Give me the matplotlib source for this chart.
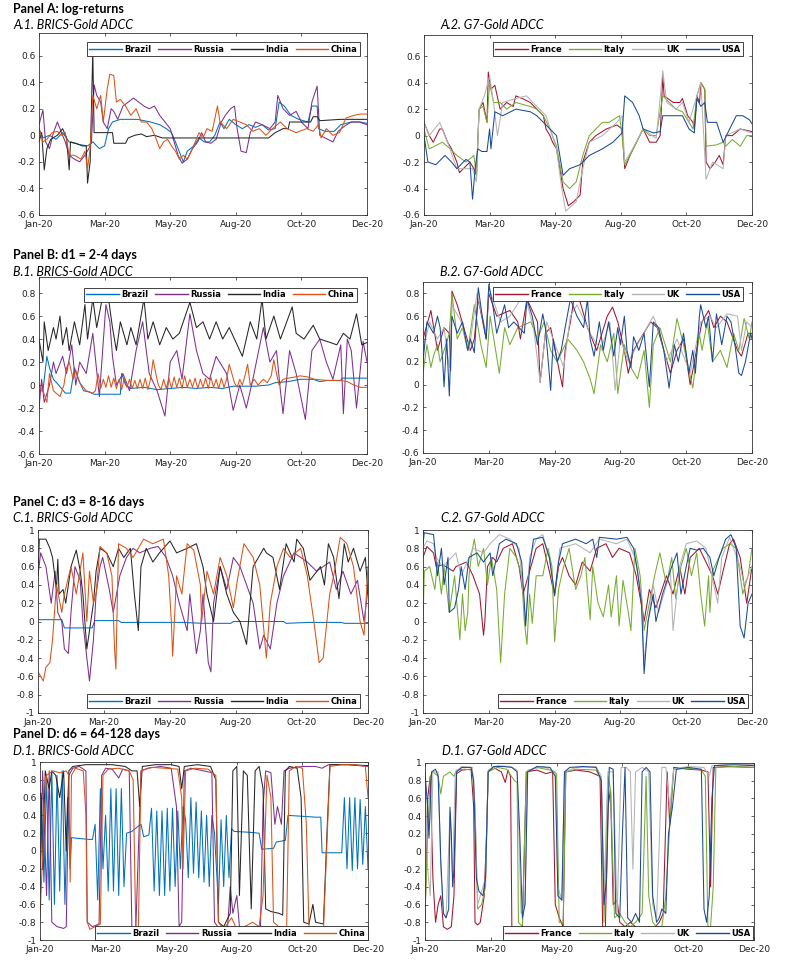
import numpy as np
import matplotlib.pyplot as plt
from matplotlib.ticker import FuncFormatter

plt.rcParams['font.family'] = 'DejaVu Sans'
plt.rcParams['axes.unicode_minus'] = False

# x axis is the trading-day index, labelled by month
tick_days = [0, 50, 100, 150, 200, 250]
tick_labels = ['Jan-20', 'Mar-20', 'May-20', 'Aug-20', 'Oct-20', 'Dec-20']

brics = ['Brazil', 'Russia', 'India', 'China']
g7 = ['France', 'Italy', 'UK', 'USA']
brics_colors = ['#0072BD', '#7E2F8E', '#262626', '#D95319']
g7_colors = ['#A2142F', '#77AC30', '#B3B3B3', '#1B4A94']

# ---- Panel A: log-returns (day, ADCC) ----
a1_brazil = [(0, .05), (3, -.02), (8, 0), (13, -.03), (18, .02), (23, -.05), (31, -.07), (37, -.08), (41, -.05),
             (46, -.1), (50, -.08), (53, .05), (56, .1), (62, .12), (75, .12), (85, .1), (92, .08), (97, .05),
             (101, .02), (104, -.05), (108, -.15), (110, -.2), (113, -.12), (118, -.08), (122, -.02), (126, -.05),
             (130, -.05), (134, 0), (138, .1), (141, .05), (145, .12), (150, .08), (155, .05), (160, .08), (165, .06),
             (170, .08), (175, .04), (180, .05), (183, .25), (187, .22), (192, .15), (198, .12), (205, .1), (208, .22),
             (212, .22), (213, .05), (218, .03), (225, .03), (230, .08), (238, .1), (245, .1), (250, .09)]
a1_russia = [(0, .08), (3, .19), (5, -.05), (8, -.1), (11, .02), (14, .1), (16, .05), (20, -.05), (23, -.15),
             (27, -.18), (31, -.2), (35, -.15), (38, -.1), (40, -.05), (42, .38), (44, .3), (47, .25), (49, .1),
             (52, .05), (55, .2), (57, .18), (60, .12), (64, .22), (68, .25), (72, .28), (76, .25), (80, .22),
             (84, .2), (88, .22), (92, .15), (96, .1), (100, .05), (103, -.05), (106, -.15), (109, -.21), (113, -.18),
             (117, -.1), (121, -.05), (124, .02), (127, -.05), (131, -.06), (135, -.03), (139, .1), (142, .15),
             (146, .2), (149, .22), (151, .05), (154, -.12), (158, -.13), (161, .02), (165, .1), (170, .08),
             (176, .05), (180, .1), (182, .3), (186, .2), (191, .15), (196, .18), (200, .1), (205, .05), (208, .25),
             (212, .37), (214, 0), (218, -.02), (224, -.05), (228, .03), (233, .07), (238, .1), (244, .1), (250, .08)]
a1_india = [(0, -.05), (2, .02), (4, -.26), (6, -.1), (9, -.03), (14, 0), (18, .05), (21, -.02), (23, -.26),
            (24, -.05), (28, -.06), (33, -.08), (36, -.08), (37, -.36), (39, -.2), (41, .63), (42, .02), (56, .02),
            (57, -.06), (66, -.06), (68, -.02), (73, 0), (78, .01), (82, -.01), (88, 0), (94, -.02), (125, -.02),
            (175, -.02), (180, .02), (186, .05), (190, .05), (191, .1), (207, .1), (209, .14), (212, .14),
            (214, .11), (230, .12), (250, .12)]
a1_china = [(0, .05), (3, -.05), (6, -.03), (10, .02), (14, .03), (17, 0), (20, .02), (23, -.15), (27, -.15),
            (32, -.18), (35, -.12), (37, -.25), (39, -.1), (41, .3), (44, .2), (47, .3), (49, .1), (52, .35),
            (54, .46), (57, .45), (59, .25), (62, .27), (66, .22), (70, .15), (74, .2), (78, .1), (82, .1), (86, .05),
            (89, -.02), (92, -.1), (95, -.05), (98, -.03), (101, -.08), (104, -.12), (107, -.18), (110, -.15),
            (113, -.18), (117, -.1), (122, .02), (125, -.02), (128, .05), (132, .03), (136, .22), (138, .1),
            (143, .05), (148, .12), (153, .1), (158, .08), (163, .03), (168, .05), (173, 0), (178, .05), (184, .1),
            (189, .05), (196, .02), (204, .05), (209, .03), (213, .08), (215, -.02), (219, .05), (224, 0),
            (229, .02), (234, .13), (240, .15), (245, .16), (250, .16)]

a2_france = [(0, .1), (4, 0), (7, -.05), (12, .05), (14, .05), (18, -.05), (21, -.1), (25, -.2), (27, -.28),
             (30, -.25), (35, -.2), (38, -.25), (40, -.3), (42, .2), (45, .25), (48, .1), (49, .48), (51, .35),
             (54, .38), (58, .2), (63, .25), (68, .22), (70, .3), (75, .28), (81, .25), (86, .2), (91, .15), (93, .05),
             (96, 0), (98, -.05), (101, -.1), (106, -.4), (110, -.53), (114, -.5), (119, -.45), (121, -.2),
             (126, -.05), (131, 0), (139, .05), (147, .08), (151, .05), (153, -.25), (157, -.15), (162, -.05),
             (167, .05), (172, -.05), (177, -.05), (180, 0), (182, .45), (183, .3), (190, .25), (195, .25),
             (197, .28), (201, .15), (205, .1), (206, .05), (208, .3), (210, .25), (211, .4), (214, .35), (215, -.2),
             (218, -.25), (222, -.2), (225, -.15), (228, -.22), (230, 0), (235, 0), (241, .05), (250, .03)]
a2_italy = [(0, .05), (4, -.1), (14, -.05), (20, -.1), (25, -.15), (32, -.2), (38, -.15), (40, -.3), (42, .2),
            (45, .22), (48, .1), (50, .4), (53, .25), (58, .25), (63, .2), (70, .25), (81, .22), (86, .2), (91, .15),
            (96, .05), (101, -.08), (106, -.35), (111, -.4), (116, -.35), (121, -.15), (126, 0), (131, .05),
            (136, .1), (141, .1), (149, .15), (151, 0), (153, -.22), (157, -.15), (162, -.05), (167, .05), (172, 0),
            (177, 0), (182, .3), (187, .25), (192, .2), (197, .18), (202, .1), (205, .05), (208, .3), (211, .4),
            (214, .35), (215, -.08), (223, -.07), (228, -.05), (230, -.08), (235, -.03), (241, -.08), (246, 0),
            (250, 0)]
a2_uk = [(0, .1), (4, 0), (12, .1), (18, -.05), (25, -.25), (37, -.25), (40, -.35), (42, .2), (46, .3), (50, .45),
         (53, .25), (56, 0), (60, .25), (70, .28), (78, .3), (88, .2), (93, .15), (101, -.1), (105, -.4),
         (108, -.57), (116, -.5), (121, -.25), (126, -.05), (136, 0), (147, .1), (151, .15), (153, -.2), (159, -.1),
         (167, .05), (177, -.02), (182, .49), (185, .25), (192, .2), (197, .25), (202, .1), (208, .3), (211, .4),
         (215, -.33), (220, -.2), (228, -.25), (230, 0), (241, .05), (250, .02)]
a2_usa = [(0, 0), (3, -.2), (9, -.22), (16, -.15), (21, -.2), (25, -.25), (32, -.18), (35, -.2), (37, -.48),
          (39, -.25), (41, -.1), (44, -.12), (48, -.12), (50, .05), (51, -.1), (54, .18), (60, .15), (70, .2),
          (81, .18), (86, .15), (91, .1), (96, .05), (101, 0), (106, -.3), (111, -.25), (119, -.22), (126, -.15),
          (136, -.1), (144, -.05), (149, 0), (151, .02), (153, .3), (159, .25), (164, .15), (167, .05), (175, .02),
          (180, .03), (182, .15), (190, .15), (197, .15), (202, .05), (206, .02), (208, .28), (211, .22),
          (214, .25), (216, .1), (223, .1), (228, -.05), (233, .05), (238, .15), (243, .15), (248, .12), (250, .09)]

# ---- Panel B: d1 = 2-4 days ----
b1_brazil = [(0, -.05), (3, -.05), (6, .25), (8, .15), (11, .05), (15, 0), (20, -.07), (24, -.07), (27, .15),
             (30, .05), (34, -.05), (38, -.06), (42, -.08), (62, -.08), (63, .1), (66, 0), (70, -.03), (80, -.02),
             (90, -.04), (100, -.03), (110, -.02), (120, -.03), (130, -.02), (140, -.03), (148, -.01), (165, -.01),
             (175, 0), (180, .02), (190, .03), (199, .05), (209, .05), (214, .03), (220, .04), (230, .04), (231, .06),
             (250, .06)]
b1_russia = [(0, -.2), (2, .05), (4, -.15), (8, 0), (11, .2), (13, .1), (18, .25), (21, .1), (25, .35), (28, 0),
             (31, .2), (36, .1), (41, .45), (46, -.1), (51, .7), (54, .55), (56, .25), (59, 0), (64, .1), (69, -.05),
             (74, .3), (79, .55), (84, .1), (90, -.05), (96, -.27), (100, .2), (105, .3), (109, .05), (115, .62),
             (120, .3), (125, .1), (130, .05), (135, .25), (143, .1), (148, -.22), (153, 0), (158, -.2), (163, .05),
             (171, .5), (176, .2), (181, .3), (184, -.05), (186, -.25), (191, .3), (196, .1), (203, -.3), (208, .3),
             (214, .4), (219, .2), (224, .05), (230, .35), (232, -.25), (235, .4), (238, .3), (242, -.2), (247, .38),
             (250, .2)]
b1_india = [(0, .4), (3, .2), (4, .55), (7, .3), (11, .5), (13, .4), (16, .6), (18, .35), (21, .5), (23, .3),
            (27, .55), (31, .35), (35, .7), (37, .4), (41, .75), (44, .5), (49, .8), (53, .75), (56, .5), (59, .3),
            (62, .55), (67, .35), (70, .5), (74, .35), (80, .75), (83, .4), (87, .55), (92, .35), (97, .5),
            (102, .4), (107, .45), (115, .72), (120, .5), (125, .55), (130, .4), (135, .55), (140, .4), (145, .5),
            (155, .25), (161, .55), (166, .4), (170, .75), (173, .4), (179, .6), (184, .4), (193, .68), (196, .45),
            (202, .4), (209, .52), (214, .4), (222, .37), (227, .35), (232, .45), (237, .4), (242, .62), (246, .35),
            (250, .37)]
b1_china = [(0, 0), (3, -.05), (6, -.15), (8, .1), (11, -.05), (16, -.1), (19, 0), (21, .15), (23, .2), (26, .05),
            (28, .13), (31, .02), (36, -.05), (41, -.07), (43, -.05), (45, .1), (47, -.03), (49, .05), (51, -.02),
            (53, .08), (55, -.02), (57, .06), (59, -.03), (61, .05), (63, -.04), (65, .06), (67, -.02), (69, .05),
            (71, -.03), (73, .04), (75, -.03), (77, .05), (79, -.03), (81, .06), (83, -.04), (85, .05), (87, .22),
            (89, .1), (91, 0), (93, -.04), (95, .05), (97, -.03), (99, .06), (101, -.03), (103, .07), (105, -.02),
            (107, .06), (109, -.03), (111, .08), (113, -.02), (115, .05), (117, -.02), (119, .06), (121, -.03),
            (123, .05), (125, -.02), (127, .06), (129, -.03), (131, .07), (133, -.02), (135, .05), (137, -.03),
            (139, .06), (141, -.02), (143, .05), (145, .18), (147, .1), (149, .02), (151, -.02), (153, .05),
            (155, 0), (157, .08), (159, .18), (161, 0), (164, .05), (167, 0), (171, .05), (174, .02), (177, .08),
            (179, .22), (181, .1), (183, 0), (186, .05), (190, .06), (195, .07), (199, .08), (205, .07), (210, .05),
            (220, .04), (230, .04), (235, .03), (240, 0), (245, -.02), (250, -.02)]

b2_france = [(0, .4), (6, .65), (11, .3), (16, .5), (20, .45), (21, .12), (22, .82), (26, .7), (31, .5), (36, .3),
             (39, .4), (42, .75), (48, .4), (50, .8), (56, .6), (66, .65), (72, .55), (74, .4), (79, .75), (87, .55),
             (89, .02), (93, .45), (97, .5), (106, -.02), (108, .3), (112, .55), (116, .85), (120, .7), (125, .5),
             (132, .3), (140, .6), (144, .68), (148, .55), (153, .3), (156, .1), (160, .3), (165, .4), (173, .55),
             (178, .5), (183, .3), (188, .1), (193, .3), (198, .4), (203, 0), (207, .25), (212, .55), (217, .65),
             (221, .5), (226, .6), (231, .55), (239, .3), (242, .25), (247, .45), (250, .45)]
b2_italy = [(0, .1), (3, .35), (6, .15), (8, .25), (11, .35), (13, .2), (16, .3), (20, .45), (22, .8), (26, .4),
            (30, .5), (34, .3), (39, .7), (44, .35), (48, .15), (51, .6), (58, .1), (62, .5), (66, .35), (72, .5),
            (82, .55), (87, .4), (92, .55), (97, .3), (102, .2), (110, .4), (117, .3), (122, .2), (127, .05),
            (130, -.08), (135, .35), (140, .2), (145, .45), (148, -.08), (153, .35), (158, .15), (163, .05),
            (168, .3), (172, -.2), (175, .35), (180, .5), (188, .2), (193, .58), (198, .35), (205, -.03), (210, .45),
            (212, .3), (216, .55), (220, .2), (226, .3), (231, .15), (236, .45), (240, .3), (244, .58), (248, .4),
            (250, .55)]
b2_uk = [(0, .3), (5, .55), (11, .4), (16, .5), (20, .15), (22, .7), (29, .55), (35, .3), (41, .8), (48, .45),
         (50, .85), (59, .55), (66, .6), (77, .8), (84, .5), (89, .02), (94, .55), (102, .3), (107, .15), (112, .6),
         (117, .7), (127, .45), (135, .3), (142, .55), (146, -.05), (150, .4), (156, .2), (163, .35), (175, .6),
         (180, .45), (185, .2), (193, .4), (203, .1), (211, .55), (218, .6), (223, .5), (231, .62), (239, .6),
         (242, .3), (246, .55), (250, .5)]
b2_usa = [(0, .2), (3, .55), (8, .45), (11, .6), (13, .5), (15, .2), (16, -.02), (18, .4), (20, -.1), (22, .6),
          (26, .45), (30, .55), (34, .3), (36, .4), (39, .28), (42, .85), (45, .6), (48, .4), (50, .88), (53, .7),
          (56, .45), (62, .7), (65, .5), (69, .55), (73, .5), (77, .45), (79, .75), (83, .6), (87, .35), (91, .62),
          (93, .5), (97, -.05), (99, .4), (102, .2), (105, .3), (108, .5), (112, .75), (117, .6), (122, .5),
          (125, .75), (127, .4), (130, .25), (134, .55), (137, .3), (141, .55), (145, .25), (148, .5), (150, .35),
          (153, .6), (155, .3), (158, .15), (160, .42), (164, .3), (168, .45), (172, -.02), (175, .55), (179, .5),
          (183, .3), (187, -.03), (191, .35), (194, .2), (198, .45), (202, .1), (205, .3), (207, .1), (210, .6),
          (211, .7), (215, .5), (217, .6), (220, .2), (223, .62), (227, .35), (231, .6), (234, .55), (237, .35),
          (240, .1), (242, .08), (245, .2), (249, .45), (250, .4)]

# ---- Panel C: d3 = 8-16 days ----
c1_brazil = [(0, .02), (18, .02), (20, -.07), (41, -.07), (43, .01), (61, .01), (63, -.01), (110, -.01),
             (125, -.02), (146, -.02), (148, 0), (186, 0), (188, -.02), (205, -.01), (230, -.01), (232, -.02),
             (250, -.02)]
c1_russia = [(0, .5), (2, .75), (6, .6), (10, .2), (13, .55), (15, .1), (18, 0), (20, -.3), (23, -.35), (25, .1),
             (28, .6), (32, .45), (34, 0), (37, -.4), (39, -.65), (42, -.2), (44, .3), (47, .6), (49, .7), (54, .35),
             (57, .1), (62, .5), (67, .7), (72, .8), (77, .75), (85, .8), (91, .82), (97, .7), (102, .5), (107, .2),
             (113, -.1), (115, .3), (120, -.35), (123, -.1), (125, .3), (129, -.45), (131, -.55), (133, .2),
             (138, .6), (143, .35), (148, .7), (153, .6), (163, .2), (168, -.3), (171, -.15), (176, -.3), (181, .2),
             (186, .5), (194, .75), (204, .65), (211, .55), (221, .65), (226, .35), (231, .55), (237, .3), (242, .45),
             (247, 0), (250, .35)]
c1_india = [(0, .5), (1, .9), (6, .9), (9, .8), (11, .7), (14, .35), (15, .68), (16, .3), (19, .35), (21, .2),
            (25, .6), (29, .78), (32, .55), (34, .3), (37, -.3), (39, -.1), (42, .2), (44, .55), (47, .8), (52, .75),
            (57, .6), (61, .8), (65, .7), (70, .8), (73, .3), (76, -.1), (78, .6), (82, .8), (87, .65), (92, .75),
            (100, .88), (105, .75), (113, .8), (120, .85), (125, .6), (128, .3), (133, 0), (138, .6), (143, .3),
            (148, .1), (153, 0), (158, -.25), (163, .6), (171, .8), (173, .75), (178, .7), (183, .35), (188, .85),
            (194, .65), (196, .9), (201, .8), (206, .45), (214, .6), (217, .4), (220, .85), (224, .7), (228, .25),
            (232, .85), (235, .65), (239, .8), (244, .55), (248, .7), (250, .3)]
c1_china = [(0, -.55), (4, -.65), (6, -.5), (9, -.45), (11, -.2), (14, .4), (18, .1), (20, .3), (25, .6), (29, .3),
            (34, .75), (37, 0), (39, .55), (42, .2), (44, .3), (47, .82), (52, .75), (56, .5), (58, -.3), (59, -.52),
            (61, .85), (67, .8), (72, .7), (80, .9), (87, .85), (95, .9), (99, .5), (101, 0), (102, -.38), (105, .5),
            (109, .3), (113, .85), (118, .78), (123, .4), (124, 0), (128, .55), (133, .3), (138, .7), (143, .5),
            (148, .15), (151, .45), (156, .85), (163, .7), (168, .4), (173, -.4), (176, .2), (181, .6), (186, .8),
            (191, .7), (199, .8), (204, .5), (209, 0), (213, -.45), (216, -.4), (221, .3), (224, .5), (229, .92),
            (234, .85), (239, .6), (244, 0), (247, -.15), (250, .6)]

c2_france = [(0, .7), (3, .82), (8, .75), (10, .6), (15, .62), (23, .55), (25, .6), (33, .65), (38, .5), (43, .3),
             (46, -.15), (47, 0), (49, .6), (53, .7), (56, .65), (61, .8), (68, .85), (73, .6), (76, .3), (80, .5),
             (86, .8), (91, .85), (96, .55), (100, .28), (103, .6), (106, .7), (111, .5), (116, .4), (121, .65),
             (127, .55), (132, .8), (139, .85), (144, .7), (149, .8), (157, .75), (162, .5), (167, .1), (168, 0),
             (172, .35), (177, .15), (185, .5), (190, .3), (195, .6), (199, .3), (203, .7), (210, .8), (215, .65),
             (220, .5), (224, .3), (228, .55), (233, .85), (236, .9), (241, .7), (246, .2), (250, .6)]
c2_italy = [(0, 0), (1, .55), (5, .6), (9, .35), (11, .65), (14, .3), (16, .6), (20, .1), (24, .5), (28, -.2),
            (30, .3), (32, -.1), (34, .1), (35, .5), (37, .75), (39, .9), (42, .6), (46, .8), (49, .4), (52, .7),
            (56, .35), (59, -.45), (62, .3), (66, .8), (71, .7), (75, .5), (77, 0), (79, -.25), (81, .3), (83, -.02),
            (86, .5), (91, .5), (95, .8), (98, .6), (100, -.22), (103, .35), (106, .55), (111, .8), (116, .35),
            (120, .5), (123, .7), (127, .02), (129, .6), (133, .2), (137, .05), (141, .4), (143, .05), (147, .5),
            (149, -.05), (152, .45), (156, .1), (158, -.1), (161, .8), (165, .5), (168, -.1), (172, .2), (176, .5),
            (180, .75), (185, .4), (189, .7), (192, .25), (196, .6), (200, .8), (204, .5), (208, .75), (211, .3),
            (214, -.05), (217, .5), (218, .1), (220, .55), (228, .8), (233, .85), (238, .8), (243, .3), (247, .5),
            (250, .8)]
c2_uk = [(0, .8), (3, .88), (8, .85), (10, .7), (15, .6), (25, .75), (29, .5), (38, .8), (46, .75), (51, .85),
         (58, .95), (66, .9), (73, .8), (78, 0), (81, .7), (86, .9), (91, .95), (96, .7), (100, .3), (104, .8),
         (116, .85), (127, .75), (134, .9), (147, .85), (155, .9), (161, .7), (166, .3), (168, -.45), (171, 0),
         (175, .4), (179, .1), (188, .55), (190, -.1), (195, .6), (200, .85), (208, .88), (215, .8), (224, .2),
         (227, .7), (233, .92), (241, .6), (244, .4), (250, .6)]
c2_usa = [(0, .85), (1, .97), (8, .95), (9, .8), (11, .5), (14, .8), (16, .4), (19, .7), (20, .1), (24, .15),
          (27, .35), (29, .6), (32, .35), (35, .7), (41, .75), (46, .65), (51, .75), (53, .5), (58, .85), (63, .9),
          (71, .85), (75, .65), (77, .2), (78, -.05), (81, .6), (84, .9), (91, .92), (96, .7), (100, .3), (103, .65),
          (106, .85), (116, .9), (124, .85), (129, .9), (132, .7), (134, .92), (147, .9), (155, .92), (160, .8),
          (163, .55), (166, .2), (168, -.57), (171, 0), (175, .3), (177, 0), (182, .3), (189, .6), (193, .75),
          (196, .3), (200, .6), (203, .8), (208, .78), (213, .8), (218, .7), (221, .5), (225, .7), (230, .9),
          (234, .95), (238, .8), (241, -.05), (244, -.18), (247, .2), (250, .3)]

# ---- Panel D: d6 = 64-128 days ----
d1_brazil = [(0, -.3), (1, .65), (3, -.35), (5, .85), (7, -.55), (9, .9), (11, -.6), (13, .85), (15, -.45), (17, .9),
             (19, -.6), (21, .6), (23, -.2), (24, .15), (30, .14), (38, .13), (40, .13), (42, .3), (44, -.55),
             (46, .7), (48, -.2), (50, .4), (52, -.45), (54, .7), (56, -.45), (58, .7), (60, -.5), (62, .7),
             (64, -.4), (66, .2), (70, .22), (75, .28), (77, .3), (79, .16), (83, .18), (85, .48), (87, -.45),
             (89, .45), (91, -.5), (93, .45), (95, -.5), (97, .48), (99, -.45), (101, .48), (103, -.4), (105, .45),
             (107, -.2), (109, .5), (111, .35), (113, -.3), (115, .6), (117, -.25), (119, .55), (121, -.3),
             (123, .45), (125, -.35), (127, .4), (129, -.4), (131, .4), (133, .2), (136, -.6), (138, .35),
             (140, -.4), (142, .4), (144, -.3), (146, .25), (148, .22), (160, .21), (167, .2), (169, .02), (178, .03),
             (180, .1), (187, .12), (189, .4), (200, .39), (210, .38), (214, .38), (215, -.02), (230, -.02),
             (232, .6), (234, -.2), (236, .6), (238, -.22), (240, .6), (242, -.2), (244, .58), (246, -.15),
             (248, .5), (250, -.2)]
d1_russia = [(0, -.5), (2, .9), (5, -.5), (7, .9), (9, -.8), (13, -.85), (18, -.87), (20, -.85), (22, .85),
             (25, .93), (30, .95), (35, .9), (36, -.8), (40, -.85), (45, -.82), (47, .85), (50, .93), (55, .92),
             (60, .82), (63, .92), (68, .9), (70, -.85), (73, -.88), (77, .9), (82, .93), (92, .95), (100, .93),
             (104, .5), (106, -.85), (108, -.8), (110, .9), (115, .93), (125, .9), (131, .88), (133, -.8),
             (137, -.88), (143, -.85), (145, -.4), (147, -.7), (150, -.5), (152, -.85), (156, -.9), (163, -.88),
             (168, -.9), (170, .5), (172, .9), (176, .88), (179, .3), (181, .5), (184, .3), (186, .9), (190, .93),
             (200, .95), (210, .95), (215, .93), (220, .97), (235, .97), (250, .95)]
d1_india = [(0, .65), (1, .6), (2, -.2), (4, .9), (7, .7), (9, .9), (12, .85), (15, .6), (18, .9), (20, 0), (22, .9),
            (25, .95), (35, .97), (45, .97), (55, .97), (65, .95), (70, .9), (74, .9), (76, .5), (78, .95), (88, .97),
            (100, .97), (106, .95), (108, .7), (110, .95), (120, .97), (130, .95), (134, .8), (136, -.8),
            (140, -.85), (145, -.7), (147, .9), (150, .95), (152, -.5), (155, .9), (158, .85), (161, -.65),
            (164, .9), (167, .95), (170, .7), (172, -.65), (176, -.68), (182, -.7), (185, -.72), (187, .9),
            (190, .95), (196, .93), (199, .6), (201, -.8), (205, -.82), (208, -.6), (210, -.8), (216, -.82),
            (219, .3), (221, .97), (235, .97), (250, .96)]
d1_china = [(0, -.75), (3, .3), (5, .85), (10, .9), (15, .88), (20, .9), (22, .85), (23, -.35), (24, .85), (27, .93),
            (33, .9), (35, .4), (36, -.8), (38, -.88), (42, -.85), (46, -.82), (48, .85), (52, .92), (60, .93),
            (68, .9), (71, .8), (73, -.88), (75, -.85), (77, .9), (85, .94), (95, .93), (105, .92), (108, .6),
            (109, -.2), (111, .9), (118, .93), (128, .92), (134, .85), (136, -.8), (140, -.88), (146, -.75),
            (150, -.88), (156, -.85), (162, -.8), (167, -.85), (170, -.5), (173, .85), (176, .6), (178, -.8),
            (182, -.85), (188, -.85), (190, .9), (195, .95), (200, .93), (203, .3), (205, -.85), (210, -.92),
            (216, -.9), (219, .2), (221, .95), (230, .97), (240, .97), (248, .95), (250, .6)]

d2_france = [(0, -.8), (2, .6), (4, .85), (6, -.3), (8, -.8), (10, -.6), (12, -.5), (14, -.85), (17, -.88),
             (20, -.85), (22, -.5), (24, .88), (28, .92), (35, .93), (37, .5), (38, -.8), (40, -.83), (42, -.8),
             (45, -.5), (47, .3), (48, .9), (52, .95), (58, .9), (61, .78), (63, .92), (65, .85), (66, -.85),
             (70, -.88), (74, -.85), (77, .9), (85, .92), (92, .88), (97, .9), (99, -.6), (102, -.75), (105, -.85),
             (107, .9), (115, .92), (125, .9), (133, .85), (135, -.85), (137, -.92), (139, .5), (141, .7),
             (143, -.6), (146, -.55), (148, -.8), (152, -.85), (156, -.8), (160, -.85), (165, -.88), (170, -.85),
             (172, -.9), (175, -.85), (178, -.8), (181, -.7), (184, .9), (186, .3), (189, .95), (200, .93),
             (210, .92), (215, .9), (217, -.4), (219, .95), (230, .96), (250, .95)]
d2_italy = [(0, -.75), (2, .2), (4, .85), (6, .9), (10, .85), (12, .65), (14, .85), (19, .9), (22, .85), (24, .92),
            (30, .93), (36, .92), (38, .5), (40, -.65), (43, -.6), (46, -.4), (48, .9), (55, .95), (62, .93),
            (68, .8), (70, .78), (71, -.8), (74, -.85), (77, .9), (85, .95), (95, .92), (100, .88), (102, -.8),
            (105, -.8), (107, .9), (115, .93), (130, .92), (134, .8), (136, -.8), (139, .85), (141, .7), (144, -.75),
            (148, -.7), (152, -.8), (156, -.85), (160, -.8), (165, -.7), (168, .85), (170, -.5), (173, -.8),
            (176, -.85), (180, -.85), (183, -.5), (186, .3), (189, .93), (200, .94), (210, .92), (213, .85),
            (215, -.88), (217, -.85), (219, -.4), (221, .95), (235, .96), (250, .95)]
d2_uk = [(0, .8), (2, -.2), (4, -.5), (6, .9), (10, .9), (12, -.2), (14, -.7), (16, -.75), (19, .45), (21, -.3),
         (23, .9), (28, .96), (36, .95), (38, .5), (40, -.6), (43, -.45), (46, -.3), (48, .92), (55, .97), (65, .96),
         (70, .92), (73, -.7), (76, -.6), (78, .92), (90, .96), (99, .9), (101, -.4), (104, -.55), (106, .9),
         (115, .95), (130, .96), (134, .85), (136, -.5), (139, .9), (143, .9), (146, -.7), (149, .95), (153, .95),
         (156, .9), (158, -.2), (160, .9), (165, .95), (170, .9), (173, -.6), (176, -.75), (180, .95), (183, .95),
         (186, .5), (189, .93), (200, .96), (212, .95), (214, .9), (216, .85), (218, .97), (235, .99), (250, .98)]
d2_usa = [(0, .9), (2, .5), (3, .15), (5, .9), (8, .93), (10, .85), (12, -.1), (14, -.7), (16, -.75), (18, -.65),
          (19, .5), (20, .2), (21, -.4), (22, -.2), (24, .9), (28, .95), (35, .95), (37, .8), (39, -.3), (41, -.45),
          (44, -.5), (46, -.3), (48, .9), (52, .96), (60, .96), (66, .95), (70, .9), (72, .2), (74, -.75),
          (76, -.6), (78, .9), (85, .96), (95, .95), (99, .85), (101, -.5), (104, -.55), (106, .9), (110, .95),
          (120, .96), (130, .95), (134, .8), (136, -.6), (138, -.3), (140, .95), (143, .93), (145, -.7),
          (148, -.75), (150, .2), (152, .95), (154, -.75), (157, -.8), (160, -.7), (163, -.8), (165, .9),
          (168, .95), (171, .9), (173, -.5), (176, -.8), (178, -.75), (180, -.65), (183, -.7), (185, .2),
          (188, .5), (191, .93), (200, .95), (210, .93), (212, -.65), (214, -.8), (216, -.5), (218, .6),
          (220, .97), (235, .98), (250, .97)]

W, H = 787, 964
fig = plt.figure(figsize=(W / 100, H / 100), dpi=100)


def fmt(v, pos):
    return '0' if abs(v) < 1e-9 else f'{v:g}'


def panel(box, series, names, colors, ylim, yticks, anchor, loc):
    x0, y0, x1, y1 = box
    ax = fig.add_axes([x0 / W, 1 - y1 / H, (x1 - x0) / W, (y1 - y0) / H])
    for s, name, c in zip(series, names, colors):
        d = np.array(s)
        ax.plot(d[:, 0], d[:, 1], color=c, lw=0.75, label=name)
    ax.set_xticks(tick_days)
    ax.set_xticklabels(tick_labels)
    ax.set_yticks([t for t in yticks if ylim[0] - 1e-9 <= t <= ylim[1] + 1e-9])
    ax.set_xlim(0, 250)
    ax.set_ylim(*ylim)
    ax.yaxis.set_major_formatter(FuncFormatter(fmt))
    ax.tick_params(direction='in', length=2, width=0.5, top=True, right=True,
                   labelsize=6.5, colors='#222222')
    ax.tick_params(axis='y', pad=2.5)
    ax.tick_params(axis='x', pad=3.5)
    for sp in ax.spines.values():
        sp.set_linewidth(0.6)
        sp.set_color('#333333')
    leg = ax.legend(loc=loc, bbox_to_anchor=anchor, ncol=4, handlelength=3.9,
                    prop={'size': 6, 'weight': 'bold'},
                    handletextpad=0.3, columnspacing=0.8, borderpad=0.3, borderaxespad=0,
                    fancybox=False, edgecolor='#222222', framealpha=1)
    leg.get_frame().set_linewidth(0.6)
    for h in leg.get_lines():
        h.set_linewidth(1.0)
    return ax


yt_ab = np.round(np.arange(-0.6, 0.81, 0.2), 1)
yt_cd = np.round(np.arange(-1, 1.01, 0.2), 1)

panel((39, 33, 367, 215), [a1_brazil, a1_russia, a1_india, a1_china], brics, brics_colors,
      (-0.6, 0.77), yt_ab, (0.979, 0.95), 'upper right')
panel((424, 35, 752, 215), [a2_france, a2_italy, a2_uk, a2_usa], g7, g7_colors,
      (-0.6, 0.76), yt_ab, (0.973, 0.96), 'upper right')
panel((39, 277, 367, 454), [b1_brazil, b1_russia, b1_india, b1_china], brics, brics_colors,
      (-0.6, 0.94), yt_ab, (0.97, 0.94), 'upper right')
panel((423, 282, 752, 453), [b2_france, b2_italy, b2_uk, b2_usa], g7, g7_colors,
      (-0.6, 0.9), yt_ab, (0.973, 0.97), 'upper right')
panel((38, 530, 368, 713), [c1_brazil, c1_russia, c1_india, c1_china], brics, brics_colors,
      (-1, 1), yt_cd, (0.976, 0.027), 'lower right')
panel((423, 530, 752, 713), [c2_france, c2_italy, c2_uk, c2_usa], g7, g7_colors,
      (-1, 1), yt_cd, (0.988, 0.027), 'lower right')
panel((40, 762, 368, 940), [d1_brazil, d1_russia, d1_india, d1_china], brics, brics_colors,
      (-1, 1), yt_cd, (1.0, 0.0), 'lower right')
panel((425, 763, 754, 940), [d2_france, d2_italy, d2_uk, d2_usa], g7, g7_colors,
      (-1, 1), yt_cd, (0.997, 0.0), 'lower right')

titles = [(13, 9, 'Panel A: log-returns', 'bold'), (13, 25, 'A.1. BRICS-Gold ADCC', 'italic'),
          (440, 25, 'A.2. G7-Gold ADCC', 'italic'),
          (13, 255, 'Panel B: d1 = 2-4 days', 'bold'), (13, 272, 'B.1. BRICS-Gold ADCC', 'italic'),
          (440, 272, 'B.2. G7-Gold ADCC', 'italic'),
          (13, 502, 'Panel C: d3 = 8-16 days', 'bold'), (13, 518, 'C.1. BRICS-Gold ADCC', 'italic'),
          (441, 518, 'C.2. G7-Gold ADCC', 'italic'),
          (13, 734, 'Panel D: d6 = 64-128 days', 'bold'), (13, 751, 'D.1. BRICS-Gold ADCC', 'italic'),
          (442, 751, 'D.1. G7-Gold ADCC', 'italic')]
for x, y, t, kind in titles:
    if kind == 'bold':
        fig.text(x / W, 1 - y / H, t, fontfamily='Lato', fontweight='bold', fontsize=9, va='center', ha='left')
    else:
        fig.text(x / W, 1 - y / H, t, fontfamily='Lato', fontstyle='italic', fontsize=9, va='center', ha='left')

fig.savefig('out.png', dpi=100)
